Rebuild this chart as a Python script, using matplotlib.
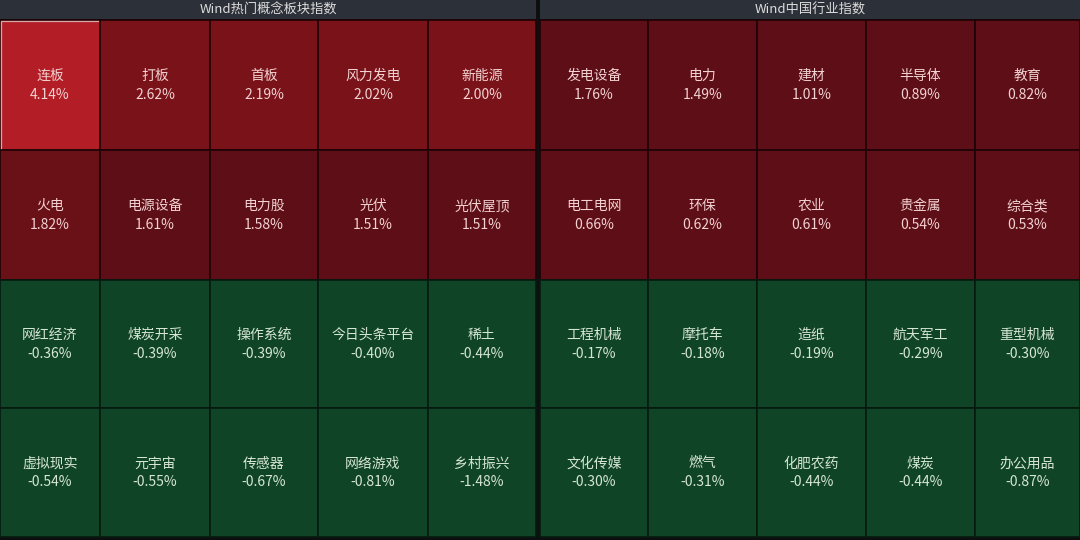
import matplotlib
matplotlib.use('Agg')
import matplotlib.pyplot as plt
from matplotlib.patches import Rectangle

plt.rcParams['font.family'] = ['Noto Sans CJK SC', 'DejaVu Sans']

# data
titles = ['Wind热门概念板块指数', 'Wind中国行业指数']
concept_names = ['连板', '打板', '首板', '风力发电', '新能源',
                 '火电', '电源设备', '电力股', '光伏', '光伏屋顶',
                 '网红经济', '煤炭开采', '操作系统', '今日头条平台', '稀土',
                 '虚拟现实', '元宇宙', '传感器', '网络游戏', '乡村振兴']
concept_vals = [4.14, 2.62, 2.19, 2.02, 2.00,
                1.82, 1.61, 1.58, 1.51, 1.51,
                -0.36, -0.39, -0.39, -0.40, -0.44,
                -0.54, -0.55, -0.67, -0.81, -1.48]
industry_names = ['发电设备', '电力', '建材', '半导体', '教育',
                  '电工电网', '环保', '农业', '贵金属', '综合类',
                  '工程机械', '摩托车', '造纸', '航天军工', '重型机械',
                  '文化传媒', '燃气', '化肥农药', '煤炭', '办公用品']
industry_vals = [1.76, 1.49, 1.01, 0.89, 0.82,
                 0.66, 0.62, 0.61, 0.54, 0.53,
                 -0.17, -0.18, -0.19, -0.29, -0.30,
                 -0.30, -0.31, -0.44, -0.44, -0.87]

# layout (pixels)
col_edges = [[0, 100, 210, 318, 428, 536], [540, 648, 757, 866, 975, 1080]]
row_edges = [20, 150, 280, 408, 537]
head_h = 20


def cell_color(v):
    if v >= 4:
        return '#b31d25'
    if v >= 2:
        return '#7a1219'
    if v >= 1.8:
        return '#6a1017'
    if v > 0:
        return '#5e0e16'
    return '#0f4426'


fig = plt.figure(figsize=(10.8, 5.4), dpi=100)
fig.patch.set_facecolor('#0c0e10')
ax = fig.add_axes([0, 0, 1, 1])
ax.set_xlim(0, 1080)
ax.set_ylim(540, 0)
ax.axis('off')

panels = [(concept_names, concept_vals), (industry_names, industry_vals)]
for p, (names, vals) in enumerate(panels):
    ce = col_edges[p]
    ax.add_patch(Rectangle((ce[0], 0), ce[-1] - ce[0], head_h - 1,
                           facecolor='#2c3038', edgecolor='none'))
    ax.text((ce[0] + ce[-1]) / 2, head_h / 2, titles[p], color='#dcdcdc',
            fontsize=9.5, ha='center', va='center')
    for i, (n, v) in enumerate(zip(names, vals)):
        r, c = divmod(i, 5)
        x0, x1 = ce[c], ce[c + 1]
        y0, y1 = row_edges[r], row_edges[r + 1]
        ax.add_patch(Rectangle((x0, y0), x1 - x0, y1 - y0,
                               facecolor=cell_color(v), edgecolor='#1e0306' if v > 0 else '#061a0e',
                               linewidth=1.2))
        if v >= 4:
            ax.add_patch(Rectangle((x0 + 0.5, y0 + 0.5), x1 - x0 - 1, y1 - y0 - 1,
                                   facecolor='none', edgecolor='#d8a8a8', linewidth=0.9))
        tc = '#f2d2d2' if v > 0 else '#d6e6d6'
        xm, ym = (x0 + x1) / 2, (y0 + y1) / 2
        ax.text(xm, ym - 9, n, color=tc, fontsize=10, ha='center', va='center')
        ax.text(xm, ym + 10, f'{v:.2f}%', color=tc, fontsize=10, ha='center', va='center')

fig.savefig('out.png', dpi=100, facecolor=fig.get_facecolor())
